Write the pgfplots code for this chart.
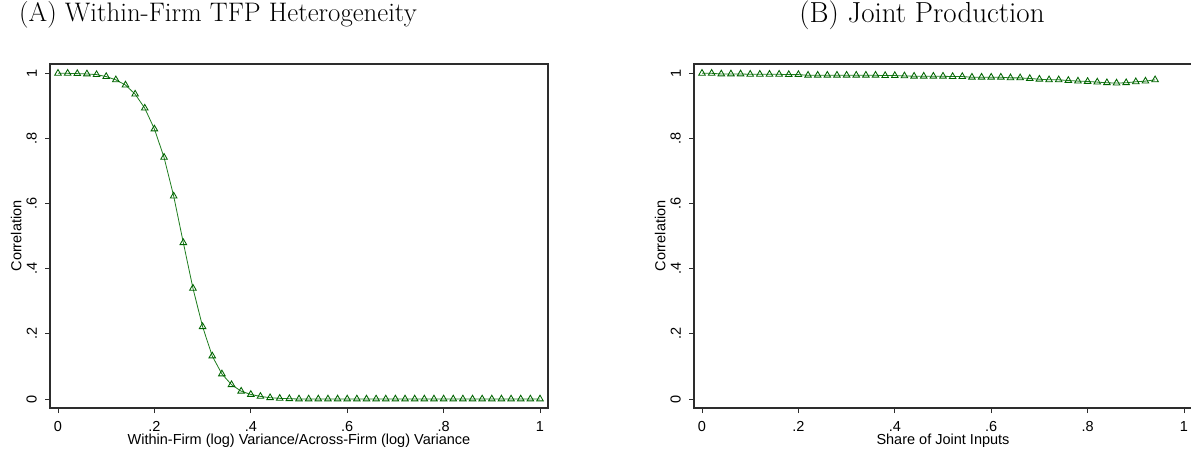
\documentclass[border=0pt]{standalone}
\usepackage{fontspec}
\usepackage{pgfplots}
\pgfplotsset{compat=1.18}
\newfontfamily\arial{Liberation Sans}
\definecolor{sgreen}{RGB}{0,100,0}
\definecolor{lgreen}{RGB}{30,125,30}
\definecolor{axgray}{RGB}{45,45,45}
\pgfplotstableread{
x y
0.00 1.000
0.02 1.000
0.04 0.999
0.06 0.998
0.08 0.996
0.10 0.990
0.12 0.980
0.14 0.964
0.16 0.936
0.18 0.893
0.20 0.829
0.22 0.742
0.24 0.623
0.26 0.480
0.28 0.340
0.30 0.222
0.32 0.132
0.34 0.077
0.36 0.044
0.38 0.024
0.40 0.014
0.42 0.008
0.44 0.004
0.46 0.002
0.48 0.001
0.50 0.000
0.52 0.000
0.54 0.000
0.56 0.000
0.58 0.000
0.60 0.000
0.62 0.000
0.64 0.000
0.66 0.000
0.68 0.000
0.70 0.000
0.72 0.000
0.74 0.000
0.76 0.000
0.78 0.000
0.80 0.000
0.82 0.000
0.84 0.000
0.86 0.000
0.88 0.000
0.90 0.000
0.92 0.000
0.94 0.000
0.96 0.000
0.98 0.000
1.00 0.000
}\dataA
\pgfplotstableread{
x y
0.00 1.000
0.02 1.000
0.04 0.998
0.06 0.998
0.08 0.998
0.10 0.997
0.12 0.997
0.14 0.997
0.16 0.997
0.18 0.996
0.20 0.996
0.22 0.994
0.24 0.994
0.26 0.994
0.28 0.994
0.30 0.994
0.32 0.994
0.34 0.994
0.36 0.994
0.38 0.993
0.40 0.993
0.42 0.992
0.44 0.991
0.46 0.991
0.48 0.991
0.50 0.991
0.52 0.990
0.54 0.990
0.56 0.988
0.58 0.988
0.60 0.988
0.62 0.988
0.64 0.986
0.66 0.986
0.68 0.984
0.70 0.982
0.72 0.980
0.74 0.980
0.76 0.978
0.78 0.976
0.80 0.975
0.82 0.973
0.84 0.971
0.86 0.970
0.88 0.971
0.90 0.974
0.92 0.976
0.94 0.980
}\dataB
\pgfplotsset{stata/.style={
  scale only axis, width=498pt, height=344pt,
  xmin=-0.0166, xmax=1.0166, ymin=-0.0276, ymax=1.0286,
  axis line style={draw=axgray, line width=1.2pt},
  xtick={0,0.2,0.4,0.6,0.8,1}, xticklabels={0,.2,.4,.6,.8,1},
  ytick={0,0.2,0.4,0.6,0.8,1}, yticklabels={0,.2,.4,.6,.8,1},
  tick align=outside, xtick pos=bottom, ytick pos=left,
  major tick length=5pt,
  tick style={draw=axgray, line width=0.9pt},
  ticklabel style={font=\arial\fontsize{14.5}{16}\selectfont, text=black},
  y tick label style={rotate=90, anchor=south, inner sep=1pt},
  yticklabel shift=7pt,
  x tick label style={anchor=north, inner sep=1pt, yshift=-7pt},
  label style={font=\arial\fontsize{14.5}{16}\selectfont, text=black},
  ylabel={Correlation},
  ylabel style={at={(axis description cs:-0.068,0.5)}, anchor=center, rotate=0},
  xlabel style={at={(axis description cs:0.5,0)}, anchor=north, yshift=-22pt},
  clip=false,
  after end axis/.code={\draw[line width=2pt, axgray] (rel axis cs:0,1) -- (rel axis cs:0,0) -- (rel axis cs:1,0);},
}}
\begin{document}
\begin{tikzpicture}
\path[use as bounding box] (0pt,0pt) rectangle (1191pt,453pt);
\node[font=\fontsize{26.8}{31}\selectfont] at (218pt,438pt) {(A) Within-Firm TFP Heterogeneity};
\node[font=\fontsize{29}{33}\selectfont] at (922pt,438pt) {(B) Joint Production};
\begin{axis}[stata, at={(50pt,45pt)}, anchor=south west,
  xlabel={Within-Firm (log) Variance/Across-Firm (log) Variance}]
\addplot[color=lgreen, line width=0.8pt, mark=triangle, mark size=3.8pt,
  mark options={draw=sgreen, fill=none, line width=0.85pt}] table[x=x,y=y] {\dataA};
\end{axis}
\begin{axis}[stata, at={(694pt,45pt)}, anchor=south west,
  xlabel={Share of Joint Inputs}]
\addplot[color=lgreen, line width=0.8pt, mark=triangle, mark size=3.8pt,
  mark options={draw=sgreen, fill=none, line width=0.85pt}] table[x=x,y=y] {\dataB};
\end{axis}
\end{tikzpicture}
\end{document}
